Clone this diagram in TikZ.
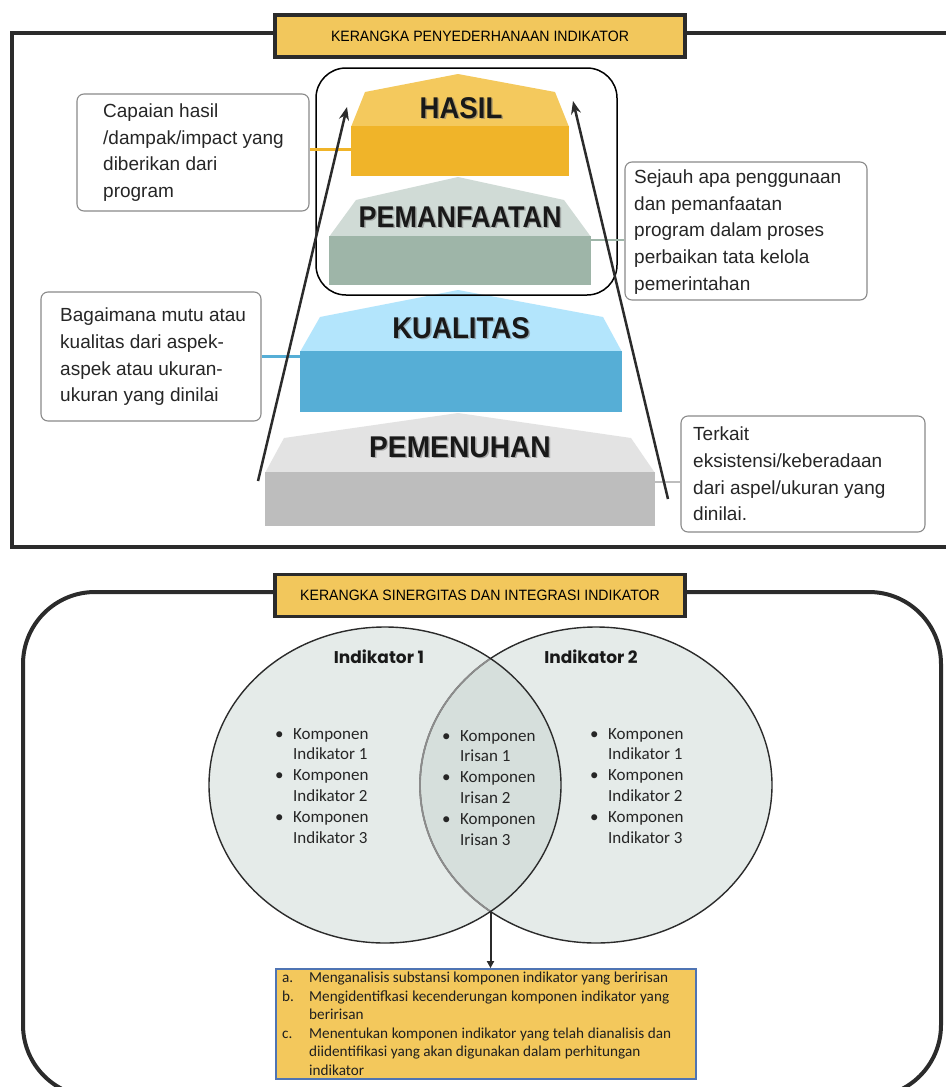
\documentclass[tikz,border=0pt]{standalone}
\usepackage{fontspec}
\setmainfont{Liberation Sans}
\newfontfamily\carl{Carlito}
\newfontfamily\popp{Poppins}
\usetikzlibrary{arrows.meta,calc}
\definecolor{frameC}{HTML}{2B2B2B}
\definecolor{titleY}{HTML}{F2C75C}
\definecolor{hasU}{HTML}{F4C95D}
\definecolor{hasL}{HTML}{F0B429}
\definecolor{pemU}{HTML}{D0DBD6}
\definecolor{pemL}{HTML}{9EB5A8}
\definecolor{kuaU}{HTML}{B3E5FC}
\definecolor{kuaL}{HTML}{56AED6}
\definecolor{pmnU}{HTML}{E3E3E3}
\definecolor{pmnL}{HTML}{BDBDBD}
\definecolor{vennC}{HTML}{E5EBE9}
\definecolor{vennI}{HTML}{D6DFDC}
\definecolor{boxY}{HTML}{F3C85C}
\definecolor{boxB}{HTML}{4F74B3}
\definecolor{cboxC}{HTML}{8A8A8A}
\tikzset{
  titlebox/.style={draw=frameC, line width=3.5pt, fill=titleY, minimum width=410pt, minimum height=42pt, inner sep=0pt, font=\fontsize{15}{15}\selectfont},
  cbox/.style={draw=cboxC, line width=1.1pt, rounded corners=7pt, fill=white, inner sep=0pt},
  ctext/.style={align=left, font=\fontsize{19}{26.7}\selectfont, inner sep=0pt, text=black!85, anchor=west},
  lvl/.style={font=\fontsize{30}{30}\selectfont\bfseries, text=black!90, inner sep=0pt},
  lvlsh/.style={font=\fontsize{30}{30}\selectfont\bfseries, text=black!55, opacity=0.5, inner sep=0pt},
  blk/.style={inner sep=0pt},
  upArrow/.style={draw=frameC, line width=2.5pt, -{Stealth[length=13pt,width=10pt]}},
  conn/.style={line width=2.5pt},
  vbul/.style={align=left, font=\carl\fontsize{17}{20.8}\selectfont, inner sep=0pt, anchor=north west, text=black!85},
  vhead/.style={font=\popp\bfseries\fontsize{17}{17}\selectfont, inner sep=0pt, text=black!90},
  btxt/.style={font=\carl\fontsize{15.2}{15.2}\selectfont, inner sep=0pt, anchor=base west, text=black!88},
}
\newcommand\vb{\makebox[18pt][l]{\textbullet}}
\newcommand\vs{\hspace*{18pt}}
\begin{document}
\begin{tikzpicture}[x=1pt,y=-1pt]
\clip (0,0) rectangle (946,1087);
\fill[white] (0,0) rectangle (946,1087);

% ---------- top frame ----------
\draw[frameC, line width=4pt] (275,33) -- (12,33) -- (12,547) -- (946,547);
\draw[frameC, line width=4pt] (685,33) -- (946,33);
\node[titlebox] (t1) at (480,36) {\scalebox{0.94}[1]{KERANGKA PENYEDERHANAAN INDIKATOR}};

% ---------- pyramid levels ----------
\fill[hasU] (351,127) -- (365,92) -- (458,74) -- (555,92) -- (569,127) -- cycle;
\node[blk, fill=hasL, minimum width=218pt, minimum height=50pt] (hasR) at (460,151) {};
\fill[pemU] (329,237) -- (356,200) -- (458,177) -- (564,200) -- (591,237) -- cycle;
\node[blk, fill=pemL, minimum width=262pt, minimum height=49pt] (pemR) at (460,260.5) {};
\fill[kuaU] (300,352) -- (320,317) -- (458,290) -- (603,317) -- (622,352) -- cycle;
\node[blk, fill=kuaL, minimum width=322pt, minimum height=61pt] (kuaR) at (461,381.5) {};
\fill[pmnU] (265,473) -- (284,438) -- (458,413) -- (631,438) -- (655,473) -- cycle;
\node[blk, fill=pmnL, minimum width=390pt, minimum height=54pt] (pmnR) at (460,499) {};

\node[lvlsh] at (462.5,109.5) {\scalebox{0.92}[1]{HASIL}};
\node[lvl] (tH) at (461,108) {\scalebox{0.92}[1]{HASIL}};
\node[lvlsh] at (461.5,218.5) {\scalebox{0.9}[1]{PEMANFAATAN}};
\node[lvl] (tP) at (460,217) {\scalebox{0.9}[1]{PEMANFAATAN}};
\node[lvlsh] at (462.5,329.5) {\scalebox{0.92}[1]{KUALITAS}};
\node[lvl] (tK) at (461,328) {\scalebox{0.92}[1]{KUALITAS}};
\node[lvlsh] at (461.5,448.5) {\scalebox{0.94}[1]{PEMENUHAN}};
\node[lvl] (tM) at (460,447) {\scalebox{0.94}[1]{PEMENUHAN}};

% rounded box around top two levels
\draw[black, line width=1.5pt, rounded corners=30pt] (316,68) rectangle (617,295);

% ---------- callouts ----------
\node[cbox, minimum width=232pt, minimum height=117pt] (b1) at (193,152.5) {};
\node[ctext] (b1t) at (103,152.5) {Capaian hasil\\/dampak/impact yang\\diberikan dari\\program};
\node[cbox, minimum width=242pt, minimum height=138pt] (b2) at (746,231) {};
\node[ctext] (b2t) at (634,232) {Sejauh apa penggunaan\\dan pemanfaatan\\program dalam proses\\perbaikan tata kelola\\pemerintahan};
\node[cbox, minimum width=220pt, minimum height=129pt] (b3) at (151,356.5) {};
\node[ctext] (b3t) at (60,357) {Bagaimana mutu atau\\kualitas dari aspek-\\aspek atau ukuran-\\ukuran yang dinilai};
\node[cbox, minimum width=244pt, minimum height=116pt] (b4) at (803,474) {};
\node[ctext] (b4t) at (693,474) {Terkait\\eksistensi/keberadaan\\dari aspel/ukuran yang\\dinilai.};

\draw[conn, hasL] ([yshift=3pt]b1.east) -- ([yshift=3pt]b1.east -| hasR.west);
\draw[conn, pemL] ([yshift=-9pt]b2.west) -- ([yshift=-9pt]b2.west -| pemR.east);
\draw[conn, kuaL] (b3.east) -- (b3.east -| kuaR.west);
\draw[conn, pmnL] ([yshift=-8pt]b4.west) -- ([yshift=-8pt]b4.west -| pmnR.east);

% ---------- arrows ----------
\coordinate (la0) at (258,481);
\coordinate (la1) at (347,107);
\coordinate (ra0) at (668,499);
\coordinate (ra1) at (573,101);
\draw[upArrow] (la0) -- (la1);
\draw[upArrow] (ra0) -- (ra1);

% ---------- bottom frame ----------
\draw[frameC, line width=4pt, rounded corners=72pt] (23,592) rectangle (941,1097);
\node[titlebox] (t2) at (480,595.5) {\scalebox{0.94}[1]{KERANGKA SINERGITAS DAN INTEGRASI INDIKATOR}};

% ---------- Venn ----------
\fill[vennC] (385,785) ellipse [x radius=176, y radius=158];
\fill[vennC] (596,785) ellipse [x radius=176, y radius=158];
\begin{scope}
  \clip (385,785) ellipse [x radius=176, y radius=158];
  \fill[vennI] (596,785) ellipse [x radius=176, y radius=158];
\end{scope}
\draw[frameC, line width=1.4pt] (596,785) ellipse [x radius=176, y radius=158];
\begin{scope}
  \clip (385,785) ellipse [x radius=176, y radius=158];
  \draw[black!45, line width=1.8pt] (596,785) ellipse [x radius=176, y radius=158];
\end{scope}
\draw[frameC, line width=1.4pt] (385,785) ellipse [x radius=176, y radius=158];

\node[vhead] (h1) at (379,657) {Indikator 1};
\node[vhead] (h2) at (591,657) {Indikator 2};

\node[vbul] (vl) at (275,728) {\vb Komponen\\\vs Indikator 1\\\vb Komponen\\\vs Indikator 2\\\vb Komponen\\\vs Indikator 3};
\node[vbul] (vm) at (442,730) {\vb Komponen\\\vs Irisan 1\\\vb Komponen\\\vs Irisan 2\\\vb Komponen\\\vs Irisan 3};
\node[vbul] (vr) at (590,728) {\vb Komponen\\\vs Indikator 1\\\vb Komponen\\\vs Indikator 2\\\vb Komponen\\\vs Indikator 3};

% ---------- bottom box ----------
\node[blk, fill=boxY, draw=boxB, line width=1.8pt, minimum width=420pt, minimum height=110pt] (bbox) at (486,1024) {};
\coordinate (vx) at (490.5,911.5);
\draw[frameC, line width=2pt, -{Triangle[length=7pt,width=7pt]}] (vx) -- (vx |- bbox.north);

\node[btxt] (la) at (282,982) {a.};
\node[btxt] (lb) at (282,1001) {b.};
\node[btxt] (lc) at (282,1038) {c.};
\node[btxt] (a1) at (309,982) {\makebox[359pt][s]{Menganalisis substansi komponen indikator yang beririsan}};
\node[btxt] (b1l) at (309,1001) {\makebox[360pt][s]{Mengidentifkasi kecenderungan komponen indikator yang}};
\node[btxt] (b2l) at (309,1019) {beririsan};
\node[btxt] (c1) at (309,1038) {\makebox[362pt][s]{Menentukan komponen indikator yang telah dianalisis dan}};
\node[btxt] (c2) at (309,1056) {diidentifikasi yang akan digunakan dalam perhitungan};
\node[btxt] (c3) at (309,1075) {indikator};
\end{tikzpicture}
\end{document}
